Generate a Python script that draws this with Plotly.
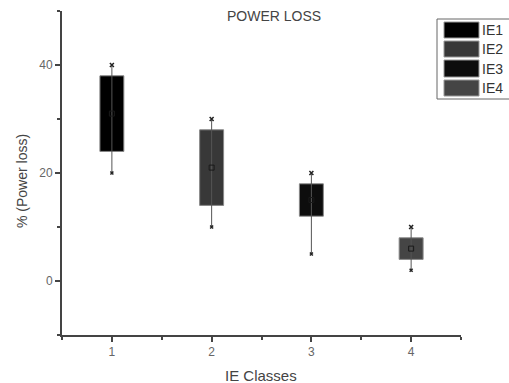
import plotly.graph_objects as go

classes = ["IE1", "IE2", "IE3", "IE4"]
x_pos = [1, 2, 3, 4]
q1 = [24, 14, 12, 4]
q3 = [38, 28, 18, 8]
whisk_min = [20, 10, 5, 2]
whisk_max = [40, 30, 20, 10]
means = [31, 21, 15, 6]
colors = ["#000000", "#383838", "#0d0d0d", "#454545"]

FONT = "Liberation Sans, Arial, sans-serif"
fig = go.Figure()

# whiskers
wx, wy = [], []
for x, lo, hi in zip(x_pos, whisk_min, whisk_max):
    wx += [x, x, None]
    wy += [lo, hi, None]
fig.add_trace(go.Scatter(x=wx, y=wy, mode="lines", line=dict(color="#555", width=1),
                         showlegend=False, hoverinfo="skip"))

# boxes
fig.add_trace(go.Bar(x=x_pos, y=[b - a for a, b in zip(q1, q3)], base=q1, width=0.24,
                     marker=dict(color=colors, line=dict(color="#888", width=1)),
                     showlegend=False))

# whisker end markers
fig.add_trace(go.Scatter(x=x_pos, y=whisk_max, mode="markers",
                         marker=dict(symbol="x-thin", size=4, line=dict(color="#222", width=1.5)),
                         showlegend=False))
fig.add_trace(go.Scatter(x=x_pos, y=whisk_min, mode="markers",
                         marker=dict(symbol="x-thin", size=3, line=dict(color="#222", width=1.5)),
                         showlegend=False))
# mean markers
fig.add_trace(go.Scatter(x=x_pos, y=means, mode="markers",
                         marker=dict(symbol="square-open", size=5, color="#1a1a1a", line=dict(width=1)),
                         showlegend=False))

# manual legend
def px2x(px):
    return (px - 62) / 399

def py2y(py):
    return 1 - (py - 11) / 324

shapes = [dict(type="rect", xref="paper", yref="paper", x0=px2x(437), x1=px2x(510),
               y0=py2y(99), y1=py2y(19), line=dict(color="#666", width=1), fillcolor="white")]
annotations = []
rows = [(22, 38), (41, 57), (60, 77), (80, 96)]
for (t, b), c, name in zip(rows, colors, classes):
    shapes.append(dict(type="rect", xref="paper", yref="paper", x0=px2x(444), x1=px2x(479),
                       y0=py2y(b), y1=py2y(t), line=dict(color="#999", width=1), fillcolor=c))
    annotations.append(dict(xref="paper", yref="paper", x=px2x(480), y=py2y((t + b) / 2),
                            text=name, showarrow=False, xanchor="left", yanchor="middle",
                            font=dict(family=FONT, size=14, color="#333")))
annotations.append(dict(xref="paper", yref="paper", x=px2x(274), y=py2y(16), text="POWER LOSS",
                        showarrow=False, xanchor="center", yanchor="middle",
                        font=dict(family=FONT, size=14, color="#444")))
annotations.append(dict(xref="paper", yref="paper", x=px2x(261), y=py2y(375), text="IE Classes",
                        showarrow=False, xanchor="center", yanchor="middle",
                        font=dict(family=FONT, size=15, color="#444")))
annotations.append(dict(xref="paper", yref="paper", x=px2x(22), y=py2y(181), text="% (Power loss)",
                        showarrow=False, xanchor="center", yanchor="middle", textangle=-90,
                        font=dict(family=FONT, size=14, color="#444")))

fig.update_layout(
    width=509, height=383,
    margin=dict(l=62, r=48, t=11, b=48, autoexpand=False),
    paper_bgcolor="white", plot_bgcolor="white",
    shapes=shapes, annotations=annotations,
    showlegend=False,
    font=dict(family=FONT, color="#555"),
)
fig.update_xaxes(range=[0.5, 4.5], tickvals=x_pos, ticktext=[str(v) for v in x_pos],
                 showgrid=False, zeroline=False, showline=True, linecolor="#444", linewidth=2,
                 ticks="outside", ticklen=5, tickwidth=2, tickcolor="#444",
                 minor=dict(tickvals=[0.5, 1.5, 2.5, 3.5, 4.5], ticks="outside", ticklen=3, tickwidth=2, tickcolor="#444"),
                 tickfont=dict(size=12, color="#666"))
fig.update_yaxes(range=[-10, 50], tickvals=[0, 20, 40], showgrid=False, zeroline=False,
                 showline=True, linecolor="#444", linewidth=2,
                 ticks="outside", ticklen=5, tickwidth=2, tickcolor="#444",
                 minor=dict(tickvals=[-10, 10, 30, 50], ticks="outside", ticklen=3, tickwidth=2, tickcolor="#444"),
                 tickfont=dict(size=12, color="#666"))

fig.write_html("out.html", config={"displayModeBar": False},
               post_script="document.body.style.margin='0';document.body.style.overflow='hidden';")
